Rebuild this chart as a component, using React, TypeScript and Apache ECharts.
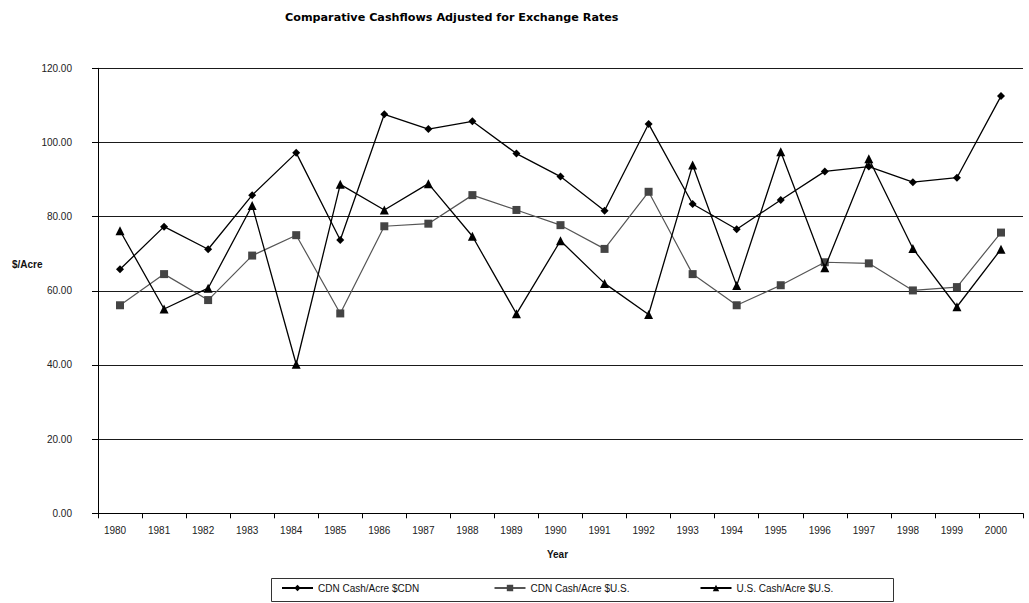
import React, { useEffect, useRef } from "react";
import * as echarts from "echarts";

const years = ["1980","1981","1982","1983","1984","1985","1986","1987","1988","1989","1990","1991","1992","1993","1994","1995","1996","1997","1998","1999","2000"];
const cdnCdn = [65.8,77.3,71.2,85.8,97.2,73.7,107.6,103.6,105.7,97.0,90.8,81.6,105.0,83.4,76.6,84.5,92.2,93.5,89.3,90.5,112.5];
const cdnUs = [56.1,64.5,57.5,69.5,75.0,53.9,77.4,78.1,85.8,81.8,77.7,71.3,86.7,64.5,56.1,61.5,67.7,67.4,60.1,61.0,75.7];
const usUs = [76.2,55.1,60.7,83.0,40.2,88.7,81.8,88.9,74.7,53.8,73.5,62.0,53.6,93.9,61.4,97.5,66.2,95.6,71.4,55.7,71.2];
const seriesNames = ["CDN Cash/Acre $CDN","CDN Cash/Acre $U.S.","U.S. Cash/Acre $U.S."];
const yTicks = { min: 0, max: 120, interval: 20 };

const FONT = "'Liberation Sans', Arial, sans-serif";

export default function App() {
  const ref = useRef<HTMLDivElement>(null);
  useEffect(() => {
    if (!ref.current) return;
    const chart = echarts.init(ref.current, null, { renderer: "svg" });
    const legendBase = {
      itemWidth: 31,
      itemHeight: 8,
      top: 583,
      padding: 0,
      textStyle: { fontFamily: FONT, fontSize: 10, color: "#111", padding: [0, 0, 3, 0] },
      itemGap: 0,
    };
    chart.setOption({
      animation: false,
      backgroundColor: "#fff",
      textStyle: { fontFamily: FONT },
      title: {
        text: "Comparative Cashflows Adjusted for Exchange Rates",
        left: 280,
        top: 7,
        textStyle: { fontFamily: "'DejaVu Sans', sans-serif", fontWeight: "bold", fontSize: 11.2, color: "#000" },
      },
      grid: { left: 98, right: 6, top: 68.3, bottom: 89.7, containLabel: false },
      legend: [
        { ...legendBase, left: 281, data: [seriesNames[0]] },
        { ...legendBase, left: 493.5, data: [seriesNames[1]] },
        { ...legendBase, left: 699.5, data: [seriesNames[2]] },
      ],
      xAxis: {
        type: "category",
        data: years,
        boundaryGap: true,
        axisLine: { lineStyle: { color: "#000", width: 1 } },
        axisTick: { show: true, length: 5, lineStyle: { color: "#000" } },
        axisLabel: { fontFamily: FONT, fontSize: 10, color: "#222", margin: 12, padding: [0, 10, 0, 0] },
        name: "Year",
        nameLocation: "middle",
        nameGap: 36,
        nameTextStyle: { fontFamily: FONT, fontWeight: "bold", fontSize: 10, color: "#111", padding: [0, 6, 0, 0] },
      },
      yAxis: {
        type: "value",
        min: yTicks.min,
        max: yTicks.max,
        interval: yTicks.interval,
        axisLine: { show: true, lineStyle: { color: "#000", width: 1 } },
        axisTick: { show: true, length: 6, lineStyle: { color: "#000" } },
        splitLine: { show: true, lineStyle: { color: "#1a1a1a", width: 1 } },
        axisLabel: {
          fontFamily: FONT,
          fontSize: 10,
          color: "#222",
          margin: 26,
          formatter: (v: number) => v.toFixed(2),
          padding: [0, 0, 5, 0],
        },
      },
      graphic: [
        {
          type: "text",
          left: 12,
          top: 259,
          style: { text: "$/Acre", font: `bold 10px ${FONT}`, fill: "#111" },
        },
        {
          type: "rect",
          shape: { x: 271.5, y: 578.5, width: 622, height: 23 },
          style: { fill: "none", stroke: "#333", lineWidth: 1 },
          z: 10,
        },
      ],
      series: [
        {
          name: seriesNames[0],
          type: "line",
          data: cdnCdn,
          symbol: "diamond",
          symbolSize: 8,
          lineStyle: { color: "#000", width: 1.3 },
          itemStyle: { color: "#000" },
          z: 3,
        },
        {
          name: seriesNames[1],
          type: "line",
          data: cdnUs,
          symbol: "rect",
          symbolSize: 8,
          lineStyle: { color: "#555", width: 1.2 },
          itemStyle: { color: "#444" },
          z: 2,
        },
        {
          name: seriesNames[2],
          type: "line",
          data: usUs,
          symbol: "triangle",
          symbolSize: 9,
          lineStyle: { color: "#000", width: 1.3 },
          itemStyle: { color: "#000" },
          z: 4,
        },
      ],
    });
    return () => chart.dispose();
  }, []);
  return (
    <div
      ref={ref}
      style={{ position: "fixed", left: 0, top: 0, width: 1029, height: 603, background: "#fff" }}
    />
  );
}
